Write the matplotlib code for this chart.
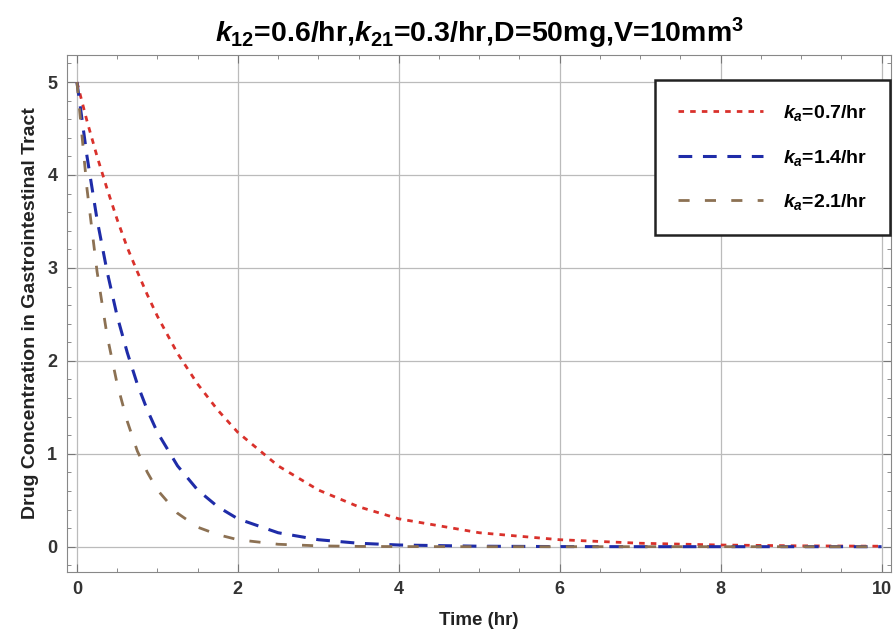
import matplotlib
matplotlib.use("Agg")
import matplotlib.pyplot as plt
from matplotlib.ticker import MultipleLocator

plt.rcParams['font.family'] = ['Liberation Sans', 'DejaVu Sans']
plt.rcParams['font.weight'] = 'bold'
plt.rcParams['mathtext.fontset'] = 'custom'
plt.rcParams['mathtext.it'] = 'Liberation Sans:bold:italic'
plt.rcParams['mathtext.rm'] = 'Liberation Sans:bold'
plt.rcParams['mathtext.bf'] = 'Liberation Sans:bold'

# values
time_hr = [0, 0.125, 0.25, 0.375, 0.5, 0.625, 0.75, 0.875, 1.0, 1.25, 1.5, 1.75,
           2, 2.5, 3, 3.5, 4, 5, 6, 7, 8, 9, 10]
conc_07 = [5.0, 4.58, 4.20, 3.85, 3.52, 3.22, 2.96, 2.71, 2.48, 2.08, 1.75, 1.47,
           1.23, 0.87, 0.61, 0.43, 0.30, 0.15, 0.075, 0.037, 0.018, 0.009, 0.005]
conc_14 = [5.0, 4.20, 3.52, 2.96, 2.48, 2.09, 1.75, 1.47, 1.23, 0.87, 0.61, 0.43,
           0.30, 0.15, 0.075, 0.037, 0.018, 0.005, 0.001, 0, 0, 0, 0]
conc_21 = [5.0, 3.85, 2.96, 2.27, 1.75, 1.35, 1.03, 0.80, 0.61, 0.36, 0.21, 0.13,
           0.075, 0.026, 0.009, 0.003, 0.001, 0, 0, 0, 0, 0, 0]
labels = ["$k_a$=0.7/hr", "$k_a$=1.4/hr", "$k_a$=2.1/hr"]

fig = plt.figure(figsize=(8.93, 6.41), dpi=100)
ax = fig.add_axes([0.075, 0.108, 0.923, 0.806])

ax.plot(time_hr, conc_07, color="#d9312b", lw=2, dashes=(2, 2.2), label=labels[0])
ax.plot(time_hr, conc_14, color="#1f2ca8", lw=2.2, dashes=(4.5, 3.5), label=labels[1])
ax.plot(time_hr, conc_21, color="#8c7153", lw=2, dashes=(4, 5.5), label=labels[2])

ax.set_xlim(-0.124, 10.12)
ax.set_ylim(-0.27, 5.29)
ax.xaxis.set_major_locator(MultipleLocator(2))
ax.xaxis.set_minor_locator(MultipleLocator(0.5))
ax.yaxis.set_major_locator(MultipleLocator(1))
ax.yaxis.set_minor_locator(MultipleLocator(0.2))
ax.tick_params(which='both', direction='in', top=True, right=True, colors='#777777',
               labelcolor='#333333', labelsize=13)
ax.tick_params(which='major', length=6, pad=7)
ax.tick_params(which='minor', length=3)
ax.grid(True, which='major', color='#bbbbbb', lw=0.9)
for s in ax.spines.values():
    s.set_color('#888888')

ax.set_xlabel("Time (hr)", fontsize=13.5, fontweight='bold', color='#222222', labelpad=10)
ax.set_ylabel("Drug Concentration in Gastrointestinal Tract", fontsize=14,
              fontweight='bold', color='#222222', labelpad=6)
ax.set_title("$k_{12}$=0.6/hr,$k_{21}$=0.3/hr,D=50mg,V=10mm$^3$", fontsize=20.5,
             fontweight='bold', pad=9)

leg = ax.legend(loc='upper right', bbox_to_anchor=(0.999, 0.952), fontsize=14,
                fancybox=False, edgecolor='#222222', framealpha=1, handlelength=4.4,
                borderpad=1.2, labelspacing=1.25, handletextpad=1.0, borderaxespad=0)
leg.get_frame().set_linewidth(1.8)

fig.savefig("out.png", dpi=100)
